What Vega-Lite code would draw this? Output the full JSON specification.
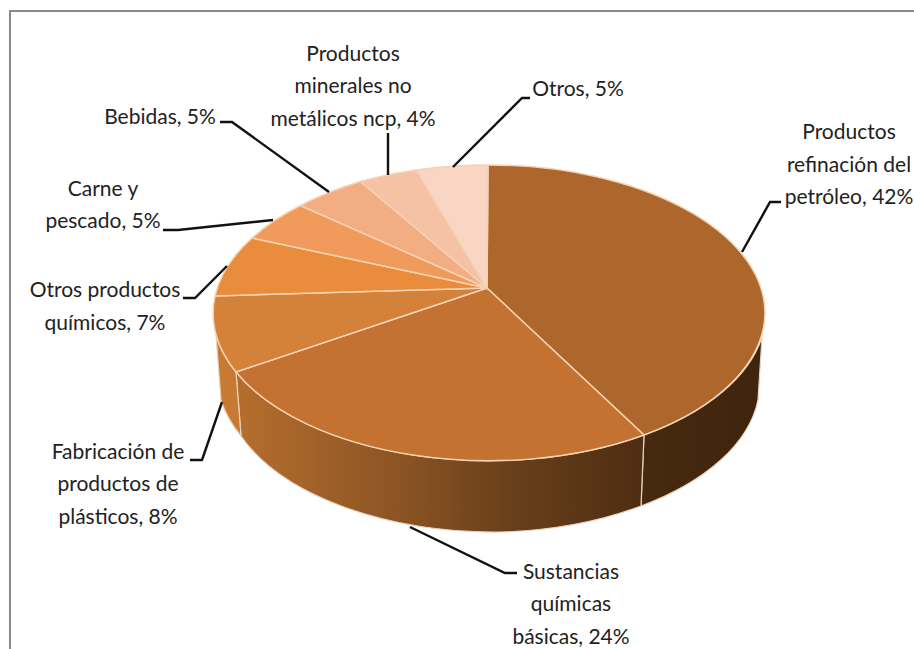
{"$schema":"https://vega.github.io/schema/vega-lite/v6.json","width":914,"height":649,"padding":0,"autosize":"none","background":"white","view":{"stroke":null},"resolve":{"scale":{"shape":"independent"}},"config":{"text":{"font":"Lato","fontSize":21,"color":"#222222","lineHeight":32.5,"lineBreak":"|","align":"center","baseline":"middle"}},"datasets":{"rows":[{"cat":"Productos refinación del petróleo","value":42,"label":"Productos|refinación del|petróleo, 42%"},{"cat":"Sustancias químicas básicas","value":24,"label":"Sustancias|químicas|básicas, 24%"},{"cat":"Fabricación de productos de plásticos","value":8,"label":"Fabricación de|productos de|plásticos, 8%"},{"cat":"Otros productos químicos","value":7,"label":"Otros productos|químicos, 7%"},{"cat":"Carne y pescado","value":5,"label":"Carne y|pescado, 5%"},{"cat":"Bebidas","value":5,"label":"Bebidas, 5%"},{"cat":"Productos minerales no metálicos ncp","value":4,"label":"Productos|minerales no|metálicos ncp, 4%"},{"cat":"Otros","value":5,"label":"Otros, 5%"}]},"data":{"name":"rows"},"layer":[{"data":{"values":[{}]},"mark":{"type":"point","shape":"M-447,324.5 L-447,-313.5 L457,-313.5","size":4,"filled":false,"fill":"transparent","stroke":"#8a8a8a","strokeWidth":2,"opacity":1},"encoding":{}},{"transform":[{"filter":"datum.value==42"}],"mark":{"type":"point","shape":"M187,110.5 A276 148.5 0 0 0 305,12.5 L301,75.5 A271 148 0 0 1 184,181.5 Z","size":4,"filled":true,"opacity":1,"stroke":"#e8d3bf","strokeWidth":1.2,"fill":{"x1":0,"y1":0,"x2":1,"y2":0,"gradient":"linear","stops":[{"offset":0,"color":"#47290f"},{"offset":1,"color":"#3f240e"}]}},"encoding":{}},{"transform":[{"filter":"datum.value==24"}],"mark":{"type":"point","shape":"M187,110.5 A276 148.5 0 0 1 -221,47.5 L-216,111.5 A271 148 0 0 0 43,207.5 A271 148 0 0 0 184,181.5 Z","size":4,"filled":true,"opacity":1,"stroke":"#e8d3bf","strokeWidth":1.2,"fill":{"x1":0,"y1":0,"x2":1,"y2":0,"gradient":"linear","stops":[{"offset":0,"color":"#b56e2e"},{"offset":0.4,"color":"#8c5424"},{"offset":0.65,"color":"#6b411b"},{"offset":1,"color":"#4e2d12"}]}},"encoding":{}},{"transform":[{"filter":"datum.value==8"}],"mark":{"type":"point","shape":"M-221,47.5 A276 148.5 0 0 1 -241,10.5 L-236,75.5 A271 148 0 0 0 -216,111.5 Z","size":4,"filled":true,"opacity":1,"stroke":"#e8d3bf","strokeWidth":1.2,"fill":"#c87a32"},"encoding":{}},{"mark":{"type":"point","size":4,"filled":true,"opacity":1,"stroke":"#f6d3b2","strokeWidth":1.5},"encoding":{"shape":{"field":"cat","type":"nominal","legend":null,"sort":null,"scale":{"domain":["Productos refinación del petróleo","Sustancias químicas básicas","Fabricación de productos de plásticos","Otros productos químicos","Carne y pescado","Bebidas","Productos minerales no metálicos ncp","Otros"],"range":["M30,-36.5 L31,-159.5 A276 148.5 0 0 1 308,-11.5 A276 148.5 0 0 1 187,110.5 Z","M30,-36.5 L187,110.5 A276 148.5 0 0 1 -221,47.5 Z","M30,-36.5 L-221,47.5 A276 148.5 0 0 1 -242,-28.5 Z","M30,-36.5 L-242,-28.5 A276 148.5 0 0 1 -205,-86.5 Z","M30,-36.5 L-205,-86.5 A276 148.5 0 0 1 -156.5,-119 Z","M30,-36.5 L-156.5,-119 A276 148.5 0 0 1 -96.5,-143 Z","M30,-36.5 L-96.5,-143 A276 148.5 0 0 1 -40.5,-154.5 Z","M30,-36.5 L-40.5,-154.5 A276 148.5 0 0 1 31,-159.5 Z"]}},"color":{"field":"cat","type":"nominal","legend":null,"sort":null,"scale":{"domain":["Productos refinación del petróleo","Sustancias químicas básicas","Fabricación de productos de plásticos","Otros productos químicos","Carne y pescado","Bebidas","Productos minerales no metálicos ncp","Otros"],"range":["#ad672c","#c37231","#d4813a","#e98c3c","#f09a5c","#f3ad83","#f5c2a5","#f9d5c3"]}},"tooltip":{"field":"value","type":"quantitative"}}},{"mark":{"type":"point","size":4,"filled":false,"fill":"transparent","stroke":"#111111","strokeWidth":2.4,"opacity":1},"encoding":{"shape":{"field":"cat","type":"nominal","legend":null,"sort":null,"scale":{"domain":["Productos refinación del petróleo","Sustancias químicas básicas","Fabricación de productos de plásticos","Otros productos químicos","Carne y pescado","Bebidas","Productos minerales no metálicos ncp","Otros"],"range":["M285,-72.5 L313,-122.5 L324,-122.5","M-47,202.5 L48,248.5 L60,248.5","M-235,77.5 L-255,135.5 L-267,135.5","M-230,-58.5 L-262,-26.5 L-274,-26.5","M-184,-104.5 L-279,-94.5 L-294,-94.5","M-128,-132.5 L-225,-202.5 L-237,-202.5","M-69,-149.5 L-69,-191.5","M-4,-157.5 L65,-226.5 L73,-226.5"]}}}},{"transform":[{"filter":"datum.value==42"}],"mark":{"type":"text","dx":392,"dy":-191.5},"encoding":{"text":{"field":"label"}}},{"transform":[{"filter":"datum.value==24"}],"mark":{"type":"text","dx":114,"dy":248},"encoding":{"text":{"field":"label"}}},{"transform":[{"filter":"datum.value==8"}],"mark":{"type":"text","dx":-339,"dy":128},"encoding":{"text":{"field":"label"}}},{"transform":[{"filter":"datum.value==7"}],"mark":{"type":"text","dx":-352,"dy":-33.25},"encoding":{"text":{"field":"label"}}},{"transform":[{"filter":"datum.cat=='Carne y pescado'"}],"mark":{"type":"text","dx":-354,"dy":-134.75},"encoding":{"text":{"field":"label"}}},{"transform":[{"filter":"datum.cat=='Bebidas'"}],"mark":{"type":"text","dx":-297,"dy":-206.5},"encoding":{"text":{"field":"label"}}},{"transform":[{"filter":"datum.value==4"}],"mark":{"type":"text","dx":-104,"dy":-270},"encoding":{"text":{"field":"label"}}},{"transform":[{"filter":"datum.cat=='Otros'"}],"mark":{"type":"text","dx":121,"dy":-234.5},"encoding":{"text":{"field":"label"}}}]}
